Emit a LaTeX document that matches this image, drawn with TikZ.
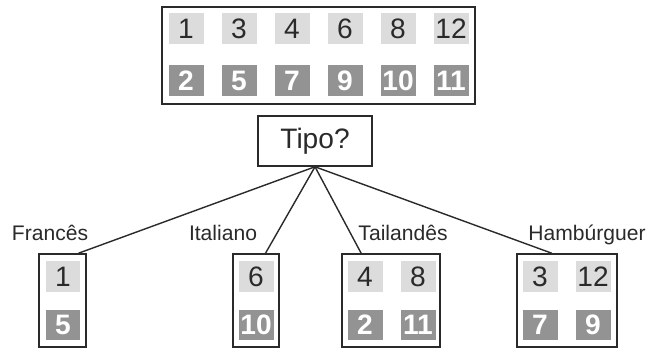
\documentclass[tikz,border=0pt]{standalone}
\usepackage{fontspec}
\setmainfont{Liberation Sans}
\usetikzlibrary{positioning,calc}
\definecolor{lightcell}{HTML}{DCDCDC}
\definecolor{darkcell}{HTML}{939393}
\definecolor{inktext}{HTML}{2A2A2A}

\tikzset{
  litecell/.style={fill=lightcell, minimum width=0.7cm, minimum height=0.62cm, inner sep=0pt, font=\fontsize{16}{16}\selectfont, text=inktext},
  darkbox/.style={fill=darkcell, minimum width=0.7cm, minimum height=0.62cm, inner sep=0pt, font=\fontsize{16}{16}\selectfont\bfseries, text=white},
  leafbox/.style={draw=inktext, line width=0.9pt, minimum height=1.86cm, inner sep=0pt},
  branchlabel/.style={anchor=base, font=\fontsize{12}{12}\selectfont, text=inktext}
}

\begin{document}
\begin{tikzpicture}[x=0.02cm, y=-0.02cm]
\useasboundingbox (0,0) rectangle (648,350);
% Top box with all twelve
\node[draw=inktext, line width=1.3pt, minimum width=6.26cm, minimum height=1.94cm, inner sep=0pt] (all) at (318.5,55.5) {};
\foreach \n [count=\i from 0] in {1,3,4,6,8,12}
  \node[litecell] (up\n) at (186+53*\i,29) {\n};
\foreach \n [count=\i from 0] in {2,5,7,9,10,11}
  \node[darkbox] (up\n) at (186+53*\i,81) {\n};

% Question
\node[draw=inktext, line width=0.9pt, minimum width=2.28cm, minimum height=1.0cm, font=\fontsize{16}{16}\selectfont, text=inktext] (tipo) at (315,141) {Tipo?};

% Leaf boxes
\node[leafbox, minimum width=0.94cm] (fr) at (62.5,300.5) {};
\node[leafbox, minimum width=0.92cm] (it) at (256,300.5) {};
\node[leafbox, minimum width=1.96cm] (th) at (391,300.5) {};
\node[leafbox, minimum width=2.0cm] (hb) at (567,300.5) {};

\node[litecell] (fr1) at (63,277) {1};
\node[darkbox] (fr5) at (63,325) {5};
\node[litecell] (it6) at (256,277) {6};
\node[darkbox] (it10) at (256,325) {10};
\node[litecell] (th4) at (365,277) {4};
\node[litecell] (th8) at (418,277) {8};
\node[darkbox] (th2) at (365,325) {2};
\node[darkbox] (th11) at (418,325) {11};
\node[litecell] (hb3) at (540,277) {3};
\node[litecell] (hb12) at (593,277) {12};
\node[darkbox] (hb7) at (540,325) {7};
\node[darkbox] (hb9) at (593,325) {9};

% Labels
\node[branchlabel] (lfr) at (50,241) {Francês};
\node[branchlabel] (lit) at (223,241) {Italiano};
\node[branchlabel] (lth) at (403,241) {Tailandês};
\node[branchlabel] (lhb) at (587,241) {Hambúrguer};

% Branches
\coordinate (efr) at ($(fr.north west)!0.83!(fr.north east)$);
\coordinate (eit) at ($(it.north west)!0.7!(it.north east)$);
\coordinate (eth) at ($(th.north west)!0.2!(th.north east)$);
\coordinate (ehb) at ($(hb.north west)!0.35!(hb.north east)$);
\foreach \e in {efr,eit,eth,ehb}
  \draw[inktext, line width=0.8pt] (tipo.south) -- (\e);
\end{tikzpicture}
\end{document}
